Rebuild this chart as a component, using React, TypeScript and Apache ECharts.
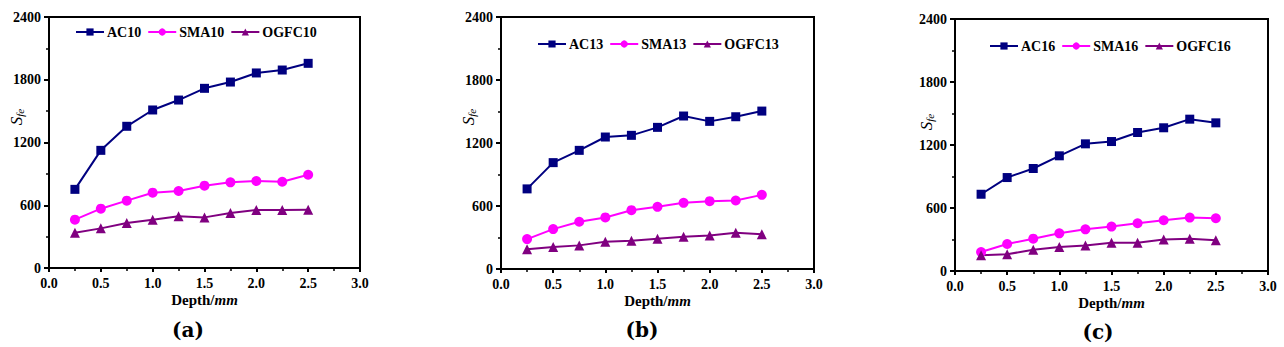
import React, { useEffect, useRef } from "react";
import * as echarts from "echarts";

const depths = [0.25, 0.5, 0.75, 1.0, 1.25, 1.5, 1.75, 2.0, 2.25, 2.5];

const ac10 = [752, 1125, 1355, 1511, 1606, 1718, 1778, 1865, 1893, 1957];
const sma10 = [462, 567, 644, 720, 736, 787, 819, 832, 825, 892];
const ogfc10 = [338, 379, 430, 462, 494, 484, 526, 555, 555, 558];

const ac13 = [763, 1013, 1130, 1257, 1273, 1349, 1457, 1406, 1450, 1504];
const sma13 = [285, 380, 450, 491, 560, 592, 630, 646, 652, 706];
const ogfc13 = [187, 209, 225, 260, 269, 288, 307, 320, 345, 332];

const ac16 = [731, 890, 976, 1097, 1211, 1233, 1319, 1364, 1446, 1411];
const sma16 = [181, 257, 308, 359, 397, 423, 455, 483, 509, 502];
const ogfc16 = [149, 159, 203, 229, 242, 270, 270, 299, 308, 292];

const xTicks = [0, 0.5, 1.0, 1.5, 2.0, 2.5, 3.0];
const yTicks = [0, 600, 1200, 1800, 2400];

const panelLabels = ["(a)", "(b)", "(c)"];
const seriesNames = [
  ["AC10", "SMA10", "OGFC10"],
  ["AC13", "SMA13", "OGFC13"],
  ["AC16", "SMA16", "OGFC16"],
];
const panelData = [
  [ac10, sma10, ogfc10],
  [ac13, sma13, ogfc13],
  [ac16, sma16, ogfc16],
];

const colors = ["#000080", "#ff00ff", "#800080"];
const symbols = ["rect", "circle", "triangle"];

const grids = [
  { left: 49, top: 17, width: 311, height: 251 },
  { left: 501, top: 17, width: 313, height: 252 },
  { left: 955, top: 19, width: 313, height: 252 },
];
const legendPos = [
  { left: 75, top: 25 },
  { left: 537, top: 37 },
  { left: 989, top: 39 },
];
const yNamePos = [
  { x: 16, y: 117 },
  { x: 468, y: 117 },
  { x: 926, y: 122 },
];
const subLabelPos = [
  { x: 188, y: 330 },
  { x: 642, y: 330 },
  { x: 1098, y: 332 },
];

const FONT = "Liberation Serif";

export default function App() {
  const ref = useRef<HTMLDivElement>(null);
  useEffect(() => {
    document.body.style.margin = "0";
    const chart = echarts.init(ref.current!, null, { renderer: "svg" });

    const xAxis: any[] = [];
    const yAxis: any[] = [];
    const series: any[] = [];
    const legend: any[] = [];
    const graphic: any[] = [];

    const tickLabel = {
      show: true,
      fontFamily: FONT,
      fontWeight: "bold",
      fontSize: 14,
      color: "#000",
      opacity: 1,
    };

    grids.forEach((g, i) => {
      xAxis.push({
        gridIndex: i,
        type: "value",
        min: 0,
        max: 3,
        interval: 0.5,
        name: "{a|Depth/}{b|mm}",
        nameLocation: "middle",
        nameGap: 24,
        nameTextStyle: {
          rich: {
            a: { fontFamily: FONT, fontWeight: "bold", fontSize: 15, color: "#000" },
            b: { fontFamily: FONT, fontWeight: "bold", fontStyle: "italic", fontSize: 15, color: "#000" },
          },
        },
        axisLine: { show: true, onZero: false, lineStyle: { color: "#000", width: 2 } },
        axisTick: { show: true, length: 4, lineStyle: { color: "#000", width: 2 } },
        minorTick: { show: true, splitNumber: 2, length: 3, lineStyle: { color: "#000", width: 1.5 } },
        splitLine: { show: false },
        axisLabel: { margin: 6, formatter: () => "" },
      });
      yAxis.push({
        gridIndex: i,
        type: "value",
        min: 0,
        max: 2400,
        interval: 600,
        axisLine: { show: true, onZero: false, lineStyle: { color: "#000", width: 2 } },
        axisTick: { show: true, length: 5, lineStyle: { color: "#000", width: 2 } },
        minorTick: { show: true, splitNumber: 2, length: 3, lineStyle: { color: "#000", width: 1.5 } },
        splitLine: { show: false },
        axisLabel: { margin: 8, formatter: () => "" },
      });
      seriesNames[i].forEach((name, k) => {
        series.push({
          type: "line",
          name,
          xAxisIndex: i,
          yAxisIndex: i,
          data: depths.map((d, j) => [d, panelData[i][k][j]]),
          symbol: symbols[k],
          symbolSize: k === 0 ? 9 : 10,
          color: colors[k],
          lineStyle: { color: colors[k], width: 2 },
          itemStyle: { color: colors[k] },
        });
      });
      // tick labels, positioned by the axes' own scales
      series.push({
        type: "scatter",
        name: "xticks" + i,
        xAxisIndex: i,
        yAxisIndex: i,
        silent: true,
        symbolSize: 2,
        itemStyle: { color: "rgba(0,0,0,0)" },
        data: xTicks.map((t) => [t, 0]),
        label: {
          ...tickLabel,
          position: "bottom",
          distance: 7,
          formatter: (p: any) => Number(p.value[0]).toFixed(1),
        },
      });
      series.push({
        type: "scatter",
        name: "yticks" + i,
        xAxisIndex: i,
        yAxisIndex: i,
        silent: true,
        symbolSize: 2,
        itemStyle: { color: "rgba(0,0,0,0)" },
        data: yTicks.map((t) => [0, t]),
        label: {
          ...tickLabel,
          position: "left",
          distance: 7,
          formatter: (p: any) => String(p.value[1]),
        },
      });
      legend.push({
        data: seriesNames[i],
        left: legendPos[i].left,
        top: legendPos[i].top,
        padding: 0,
        orient: "horizontal",
        itemWidth: 28,
        itemHeight: 9,
        itemGap: 6,
        textStyle: {
          fontFamily: FONT,
          fontWeight: "bold",
          fontSize: 14,
          color: "#000",
          padding: [0, 0, 0, -2],
        },
      });
      graphic.push({
        type: "text",
        x: yNamePos[i].x,
        y: yNamePos[i].y,
        rotation: Math.PI / 2,
        style: {
          text: "{s|S}{f|fe}",
          align: "center",
          verticalAlign: "middle",
          rich: {
            s: { fontFamily: FONT, fontStyle: "italic", fontSize: 17, fill: "#000" },
            f: { fontFamily: FONT, fontStyle: "italic", fontSize: 11, fill: "#000", padding: [8, 0, 0, 0] },
          },
        },
      });
      graphic.push({
        type: "text",
        x: subLabelPos[i].x,
        y: subLabelPos[i].y,
        style: {
          text: panelLabels[i],
          align: "center",
          verticalAlign: "middle",
          fontFamily: "DejaVu Serif",
          fontSize: 20,
          fontWeight: "bold",
          fill: "#000",
        },
      });
    });

    chart.setOption({
      animation: false,
      backgroundColor: "#fff",
      textStyle: { fontFamily: FONT },
      grid: grids.map((g) => ({
        ...g,
        show: true,
        borderColor: "#000",
        borderWidth: 2,
        backgroundColor: "transparent",
      })),
      xAxis,
      yAxis,
      legend,
      series,
      graphic,
    });
    return () => chart.dispose();
  }, []);
  return <div ref={ref} style={{ width: 1284, height: 347 }} />;
}
